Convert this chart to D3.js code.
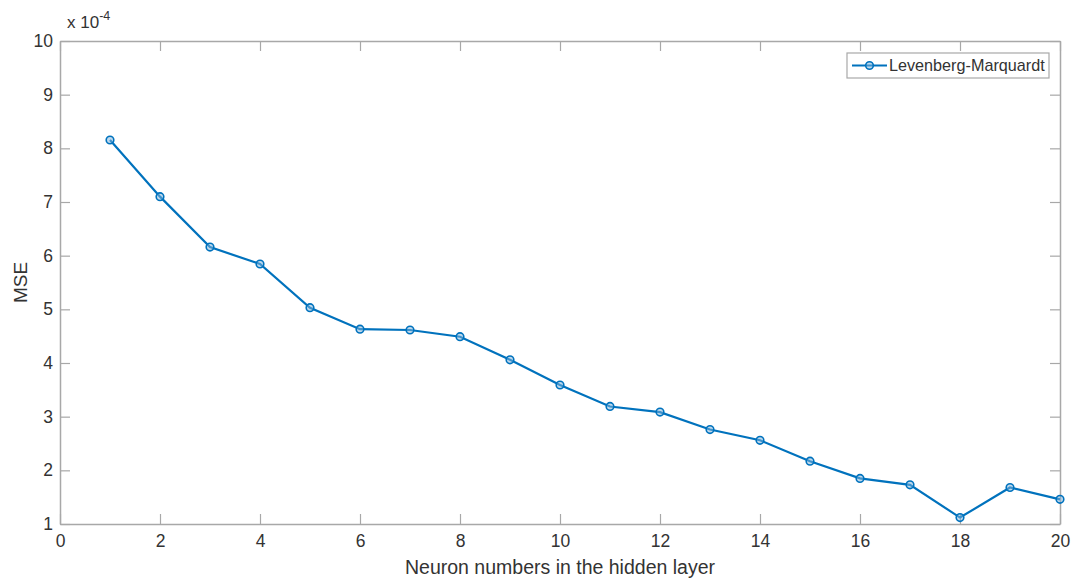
<!DOCTYPE html>
<html>
<head>
<meta charset="utf-8">
<script src="https://cdn.jsdelivr.net/npm/d3@7"></script>
<style>
  body { margin: 0; background: #fff; }
  svg text { font-family: "Liberation Sans", Arial, sans-serif; fill: #333; }
</style>
</head>
<body>
<div id="plot"></div>
<script>
// neuron counts and MSE (x 1e-4)
var neurons = [1, 2, 3, 4, 5, 6, 7, 8, 9, 10, 11, 12, 13, 14, 15, 16, 17, 18, 19, 20];
var mse = [8.155, 7.10, 6.16, 5.845, 5.03, 4.63, 4.615, 4.49, 4.06, 3.59, 3.19, 3.085, 2.76, 2.56, 2.17, 1.85, 1.73, 1.12, 1.68, 1.46];
var xTicks = [0, 2, 4, 6, 8, 10, 12, 14, 16, 18, 20];
var yTicks = [1, 2, 3, 4, 5, 6, 7, 8, 9, 10];
var seriesName = "Levenberg-Marquardt";

var margin = {top: 41, right: 16, bottom: 57, left: 60};
var width = 1076 - margin.left - margin.right;
var height = 581 - margin.top - margin.bottom;
var axisColor = "#a8a8a8";
var lineColor = "#0072BD";

var x = d3.scaleLinear().domain([0, 20]).range([0, width]);
var y = d3.scaleLinear().domain([1, 10]).range([height, 0]);

var svg = d3.select("#plot").append("svg")
	.attr("width", 1076)
	.attr("height", 581)
	.append("g")
	.attr("transform", "translate(" + margin.left + "," + margin.top + ")");

// box with inward ticks on all four sides
function styleAxis(g) {
	g.select(".domain").attr("stroke", axisColor).attr("stroke-width", 1.5);
	g.selectAll(".tick line").attr("stroke", axisColor).attr("stroke-width", 1.2);
	g.selectAll(".tick text").style("font-size", "17.5px").attr("fill", "#333");
}

svg.append("g")
	.attr("transform", "translate(0," + height + ")")
	.call(d3.axisBottom(x).tickValues(xTicks).tickSizeInner(-10).tickSizeOuter(0).tickPadding(11))
	.call(styleAxis);

svg.append("g")
	.call(d3.axisTop(x).tickValues(xTicks).tickSizeInner(-10).tickSizeOuter(0).tickFormat(""))
	.call(styleAxis);

svg.append("g")
	.call(d3.axisLeft(y).tickValues(yTicks).tickSizeInner(-10).tickSizeOuter(0).tickPadding(7))
	.call(styleAxis);

svg.append("g")
	.attr("transform", "translate(" + width + ",0)")
	.call(d3.axisRight(y).tickValues(yTicks).tickSizeInner(-10).tickSizeOuter(0).tickFormat(""))
	.call(styleAxis);

// exponent label
var expo = svg.append("text")
	.attr("x", 7)
	.attr("y", -13)
	.style("font-size", "17px");
expo.append("tspan").text("x 10");
expo.append("tspan").attr("dy", -8).style("font-size", "12.5px").text("-4");

// axis labels
svg.append("text")
	.attr("x", width / 2)
	.attr("y", height + 50)
	.attr("text-anchor", "middle")
	.style("font-size", "19.5px")
	.text("Neuron numbers in the hidden layer");

svg.append("text")
	.attr("transform", "translate(-33," + (height / 2) + ") rotate(-90)")
	.attr("text-anchor", "middle")
	.style("font-size", "19px")
	.text("MSE");

// data line
var data = neurons.map(function(n, i) { return {n: n, v: mse[i]}; });

svg.append("path")
	.datum(data)
	.attr("fill", "none")
	.attr("stroke", lineColor)
	.attr("stroke-width", 2.2)
	.attr("d", d3.line()
		.x(function(d) { return x(d.n); })
		.y(function(d) { return y(d.v); }));

svg.append("g")
	.selectAll("circle")
	.data(data)
	.enter().append("circle")
	.attr("cx", function(d) { return x(d.n); })
	.attr("cy", function(d) { return y(d.v); })
	.attr("r", 3.8)
	.attr("fill", "#7fb3dc")
	.attr("fill-opacity", 0.5)
	.attr("stroke", lineColor)
	.attr("stroke-width", 1.6);

// legend
var legend = svg.append("g").attr("transform", "translate(" + (847 - margin.left) + "," + (53 - margin.top) + ")");
legend.append("rect")
	.attr("width", 202)
	.attr("height", 25)
	.attr("fill", "#fff")
	.attr("stroke", axisColor)
	.attr("stroke-width", 1.2);
legend.append("line")
	.attr("x1", 5).attr("x2", 40)
	.attr("y1", 12.5).attr("y2", 12.5)
	.attr("stroke", lineColor)
	.attr("stroke-width", 2.2);
legend.append("circle")
	.attr("cx", 22.5).attr("cy", 12.5).attr("r", 3.8)
	.attr("fill", "#7fb3dc").attr("fill-opacity", 0.5)
	.attr("stroke", lineColor).attr("stroke-width", 1.6);
legend.append("text")
	.attr("x", 42)
	.attr("y", 18)
	.style("font-size", "16.2px")
	.text(seriesName);
</script>
</body>
</html>
